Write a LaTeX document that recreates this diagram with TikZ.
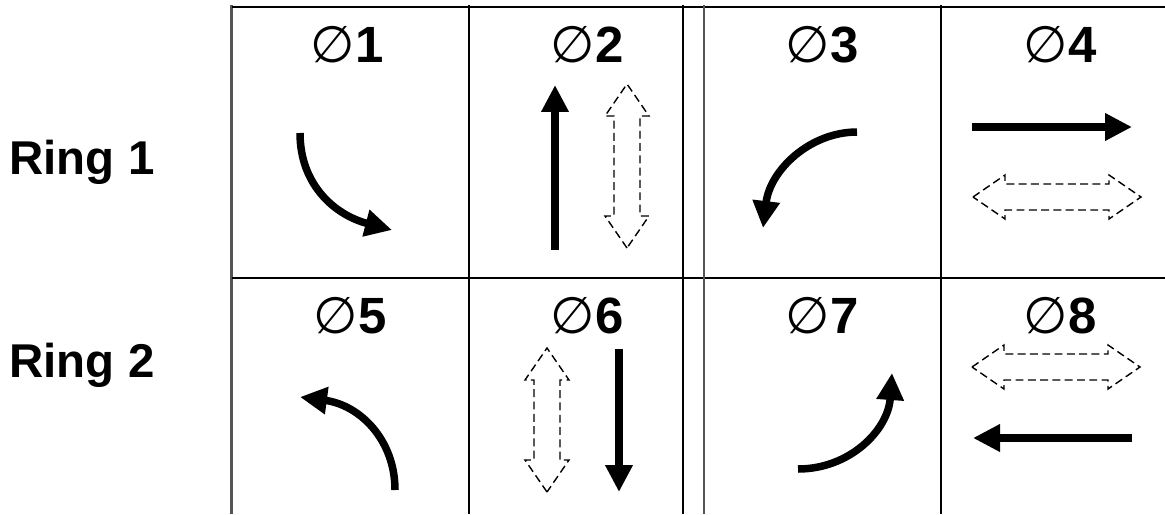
\documentclass[tikz,border=0pt]{standalone}
\usepackage{fontspec}
\setmainfont{Liberation Sans}
\newfontfamily\symfont{DejaVu Sans}
\usetikzlibrary{arrows.meta}
\definecolor{edgegray}{RGB}{85,85,85}

\tikzset{
  dblarrow/.pic={
    \draw[line width=0.8pt, dash pattern=on 4.5pt off 2.5pt]
      (-#1,0) -- (-#1+32,-22) -- (-#1+32,-13) -- (#1-32,-13) -- (#1-32,-22)
      -- (#1,0) -- (#1-32,22) -- (#1-32,13) -- (-#1+32,13) -- (-#1+32,22) -- cycle;
  }
}

\begin{document}
\begin{tikzpicture}[x=0.02cm, y=-0.02cm,
    gridline/.style={line width=0.05cm},
    flow/.style={line width=0.15cm, -{Triangle[length=0.54cm,width=0.52cm]}},
    phaselbl/.style={anchor=base, inner sep=0pt, font=\fontsize{29}{35}\selectfont\bfseries},
    ringlbl/.style={anchor=base, inner sep=0pt, font=\fontsize{27}{32}\selectfont\bfseries}]
    \useasboundingbox (0,0) rectangle (1165,514);

    % table lines
    \draw[line width=0.06cm, edgegray] (231,5) -- (231,514);
    \draw[gridline] (232,7) -- (1165,7);
    \draw[gridline] (232,278) -- (1165,278);
    \draw[gridline] (469,5) -- (469,514);
    \draw[gridline] (683,5) -- (683,514);
    \draw[line width=0.035cm, edgegray] (704,5) -- (704,514);
    \draw[gridline] (941,5) -- (941,514);

    % row names
    \node[ringlbl] (ring1) at (82,174) {Ring 1};
    \node[ringlbl] (ring2) at (82,377) {Ring 2};

    % phase numbers
    \foreach \n/\x/\y in {1/347/62, 2/587/62, 3/822/62, 4/1060/62,
                          5/350/333, 6/587/333, 7/822/333, 8/1060/333}
      \node[phaselbl] (ph\n) at (\x,\y) {{\symfont\mdseries ∅}\n};

    % movements, ring 1
    \draw[flow] (300,133) .. controls (300,185) and (335,215) .. (392,230);
    \draw[flow] (555,250) -- (555,85);
    \pic[rotate=90] at (627,166) {dblarrow=82};
    \draw[flow] (857,132) .. controls (810,132) and (770,170) .. (763,228);
    \draw[flow] (972,127) -- (1132,127);
    \pic at (1057,197) {dblarrow=84};

    % movements, ring 2
    \draw[flow] (395,490) .. controls (395,440) and (360,405) .. (300,397);
    \pic[rotate=90] at (547,420) {dblarrow=72};
    \draw[flow] (619,349) -- (619,492);
    \draw[flow] (798,469) .. controls (850,469) and (888,430) .. (892,373);
    \pic at (1056,367) {dblarrow=84};
    \draw[flow] (1132,438) -- (973,438);
\end{tikzpicture}
\end{document}
